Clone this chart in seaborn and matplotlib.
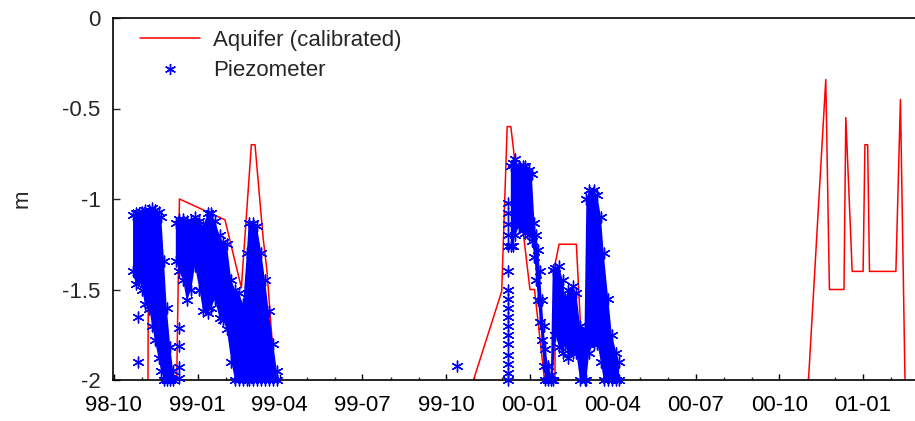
import matplotlib
matplotlib.use("Agg")
import numpy as np
import pandas as pd
import seaborn as sns
import matplotlib.pyplot as plt
import matplotlib.dates as mdates
from matplotlib.lines import Line2D

# ---------------- data ----------------
aquifer_dates = [
    "1998-09-30", "1998-11-07", "1998-11-08", "1998-11-21", "1998-12-01", "1998-12-03",
    "1998-12-08", "1998-12-09", "1998-12-12", "1999-01-31", "1999-02-18", "1999-03-01",
    "1999-03-05", "1999-03-14", "1999-03-18", "1999-03-27", "1999-03-28",
    "1999-10-30", "1999-10-31", "1999-12-01", "1999-12-07", "1999-12-11", "2000-01-01",
    "2000-01-06", "2000-01-17", "2000-01-18", "2000-01-28", "2000-01-29", "2000-02-02",
    "2000-02-21", "2000-02-26", "2000-03-03", "2000-03-04", "2000-03-16", "2000-03-24",
    "2000-04-04", "2000-04-05",
    "2000-11-01", "2000-11-02", "2000-11-21", "2000-11-25", "2000-12-11", "2000-12-13",
    "2000-12-20", "2001-01-01", "2001-01-03", "2001-01-06", "2001-01-08", "2001-02-06",
    "2001-02-11", "2001-02-16", "2001-02-17", "2001-02-28",
]
aquifer_m = [
    -2.6, -2.6, -1.20, -1.15, -2.0, -2.6,
    -2.6, -2.0, -1.00, -1.115, -1.49, -0.70,
    -0.70, -1.22, -1.39, -2.0, -2.6,
    -2.6, -2.0, -1.51, -0.60, -0.60, -1.50,
    -1.50, -2.0, -2.6, -2.6, -1.35, -1.25,
    -1.25, -1.74, -1.74, -1.25, -1.25, -1.60,
    -2.0, -2.6,
    -2.6, -2.0, -0.34, -1.50, -1.50, -0.55,
    -1.40, -1.40, -0.70, -0.70, -1.40, -1.40,
    -0.45, -2.0, -2.6, -2.6,
]

# piezometer readings: upper and lower envelope of the dense record (None = no data)
piezo_dates = [
    "1998-10-22", "1998-10-25", "1998-10-29", "1998-11-01", "1998-11-04", "1998-11-09",
    "1998-11-12", "1998-11-15", "1998-11-19", "1998-11-22", "1998-11-25", "1998-11-28",
    "1998-12-02", "1998-12-05", "1998-12-06",
    "1998-12-08", "1998-12-12", "1998-12-16", "1998-12-20", "1998-12-25", "1998-12-29",
    "1999-01-03", "1999-01-07", "1999-01-12", "1999-01-16", "1999-01-20", "1999-01-25",
    "1999-01-29", "1999-02-02", "1999-02-07", "1999-02-11", "1999-02-15", "1999-02-20",
    "1999-02-24", "1999-02-26", "1999-03-03", "1999-03-07", "1999-03-12", "1999-03-16",
    "1999-03-20", "1999-03-25", "1999-03-29", "1999-03-30",
    "1999-12-11", "1999-12-13", "1999-12-16", "1999-12-20", "1999-12-24", "1999-12-27",
    "1999-12-31", "2000-01-03", "2000-01-06", "2000-01-08", "2000-01-10", "2000-01-12",
    "2000-01-14", "2000-01-16", "2000-01-18", "2000-01-21", "2000-01-24", "2000-01-26",
    "2000-01-29", "2000-02-02", "2000-02-06", "2000-02-09", "2000-02-12", "2000-02-17",
    "2000-02-21", "2000-02-25", "2000-03-01", "2000-03-03", "2000-03-06", "2000-03-11",
    "2000-03-15", "2000-03-19", "2000-03-22", "2000-03-27", "2000-03-31", "2000-04-05",
    "2000-04-08",
]
piezo_top = [
    -1.09, -1.08, -1.08, -1.07, -1.06, -1.06,
    -1.05, -1.06, -1.07, -1.10, -1.34, -1.60,
    -1.82, -1.95, None,
    -1.13, -1.11, -1.11, -1.12, -1.12, -1.10,
    -1.12, -1.15, -1.08, -1.08, -1.12, -1.20,
    -1.24, -1.25, -1.45, -1.50, -1.52, -1.58,
    -1.30, -1.13, -1.13, -1.15, -1.30, -1.45,
    -1.62, -1.80, -1.95, None,
    -0.82, -0.80, -0.78, -0.82, -0.82, -0.82,
    -0.84, -0.86, -1.13, -1.20, -1.28, -1.40,
    -1.56, -1.70, -1.83, -1.92, -1.97, -1.39,
    -1.38, -1.37, -1.45, -1.55, -1.50, -1.48,
    -1.52, -1.70, -1.72, -1.00, -0.95, -0.95,
    -0.98, -1.10, -1.30, -1.55, -1.75, -1.85,
    -1.90,
]
piezo_bottom = [
    -1.40, -1.47, -1.45, -1.50, -1.58, -1.61,
    -1.70, -1.78, -1.88, -1.95, -2.00, -2.00,
    -2.00, -2.00, None,
    -1.34, -1.40, -1.45, -1.56, -1.50, -1.37,
    -1.50, -1.62, -1.63, -1.60, -1.55, -1.66,
    -1.67, -1.72, -1.90, -2.00, -2.00, -2.00,
    -2.00, -2.00, -2.00, -2.00, -2.00, -2.00,
    -2.00, -2.00, -2.00, None,
    -1.26, -1.26, -1.20, -1.15, -1.17, -1.19,
    -1.20, -1.23, -1.32, -1.45, -1.56, -1.68,
    -1.78, -1.92, -2.00, -2.00, -2.00, -2.00,
    -1.75, -1.82, -1.85, -1.80, -1.88, -1.85,
    -1.85, -2.00, -2.00, -2.00, -1.85, -1.80,
    -1.80, -1.90, -2.00, -2.00, -2.00, -2.00,
    -2.00,
]

# single, scattered piezometer readings
single_dates = [
    "1998-10-27", "1998-10-27", "1998-12-12", "1998-12-12", "1998-12-12", "1998-12-12",
    "1999-10-13",
    "1999-12-08", "1999-12-08", "1999-12-08", "1999-12-08", "1999-12-08", "1999-12-08",
    "1999-12-08", "1999-12-08", "1999-12-08", "1999-12-08", "1999-12-08", "1999-12-08",
    "1999-12-08", "1999-12-08", "1999-12-08", "1999-12-08", "1999-12-08",
]
single_m = [
    -1.65, -1.90, -1.71, -1.81, -1.93, -1.99,
    -1.92,
    -1.02, -1.08, -1.14, -1.20, -1.26, -1.40, -1.50,
    -1.55, -1.60, -1.65, -1.70, -1.75, -1.80,
    -1.86, -1.91, -1.96, -2.00,
]

series_labels = ["Aquifer (calibrated)", "Piezometer"]
y_ticks = [0, -0.5, -1, -1.5, -2]
y_tick_labels = ["0", "-0.5", "-1", "-1.5", "-2"]
x_range = ["1998-09-30", "2001-02-27"]

# ---------------- figure ----------------
sns.set_style("ticks")
plt.rcParams["font.family"] = ["Liberation Sans", "DejaVu Sans"]
plt.rcParams["axes.unicode_minus"] = False

RED = "#ff0000"
BLUE = "#0000ff"
STAR = (6, 2, 0)

fig = plt.figure(figsize=(9.15, 4.21), dpi=100)
ax = fig.add_axes([113 / 915, 41 / 421, 802 / 915, 362 / 421])

aq = pd.DataFrame({"date": pd.to_datetime(aquifer_dates), "m": aquifer_m})
sns.lineplot(data=aq, x="date", y="m", color=RED, linewidth=1.1,
             estimator=None, sort=False, ax=ax, zorder=1)

pz = pd.DataFrame({
    "date": pd.to_datetime(piezo_dates),
    "top": pd.Series(piezo_top, dtype="float"),
    "bottom": pd.Series(piezo_bottom, dtype="float"),
})
ax.fill_between(pz["date"], pz["top"], pz["bottom"], color=BLUE, linewidth=0, zorder=2)

edge = pd.concat([
    pz[["date", "top"]].rename(columns={"top": "m"}),
    pz[["date", "bottom"]].rename(columns={"bottom": "m"}),
]).dropna()
sns.scatterplot(data=edge, x="date", y="m", marker=STAR, s=60, color=BLUE,
                edgecolor=BLUE, linewidth=1.0, ax=ax, zorder=3, clip_on=False)

sg = pd.DataFrame({"date": pd.to_datetime(single_dates), "m": single_m})
sns.scatterplot(data=sg, x="date", y="m", marker=STAR, s=60, color=BLUE,
                edgecolor=BLUE, linewidth=1.0, ax=ax, zorder=3, clip_on=False)

ax.set_xlim(pd.Timestamp(x_range[0]), pd.Timestamp(x_range[1]))
ax.set_ylim(-2, 0)
ax.set_yticks(y_ticks)
ax.set_yticklabels(y_tick_labels)

ax.xaxis.set_major_locator(mdates.MonthLocator(bymonth=[1, 4, 7, 10]))
ax.xaxis.set_minor_locator(mdates.MonthLocator())
ax.xaxis.set_major_formatter(mdates.DateFormatter("%y-%m"))

ax.tick_params(axis="x", which="major", direction="in", length=4.3, width=1.0,
               labelsize=16, pad=11, top=False, colors="black")
ax.tick_params(axis="x", which="minor", direction="in", length=2.5, width=1.0, top=False)
ax.tick_params(axis="y", which="major", direction="in", length=5, width=1.0,
               labelsize=16, pad=9, right=False)

for side in ["left", "bottom", "top"]:
    ax.spines[side].set_visible(True)
    ax.spines[side].set_linewidth(1.2)
    ax.spines[side].set_color("black")
ax.spines["right"].set_visible(False)

ax.set_xlabel("")
ax.set_ylabel("m", fontsize=16)
ax.yaxis.set_label_coords(-0.100, 0.5)

handles = [
    Line2D([], [], color=RED, linewidth=1.1, label=series_labels[0]),
    Line2D([], [], color=BLUE, linestyle="none", marker=STAR, markersize=8,
           markeredgewidth=1.0, label=series_labels[1]),
]
ax.legend(handles=handles, loc="upper left", bbox_to_anchor=(0.0337, 0.967),
          frameon=False, fontsize=16, handlelength=2.7, handletextpad=0.6,
          labelspacing=0.42, borderpad=0, borderaxespad=0)

fig.savefig("out.png", dpi=100, facecolor="white")
